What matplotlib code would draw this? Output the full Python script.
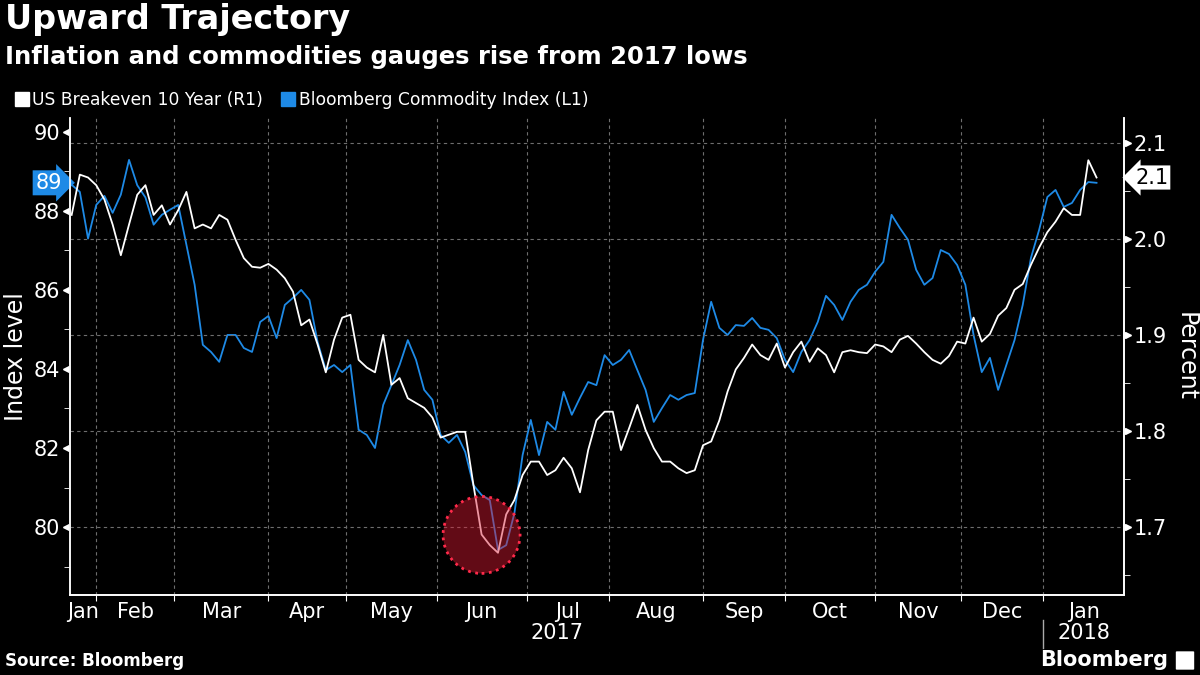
import numpy as np
import pandas as pd
import matplotlib
matplotlib.use("Agg")
import matplotlib.pyplot as plt
from matplotlib.lines import Line2D
from matplotlib.patches import Circle, FancyBboxPatch
from matplotlib.transforms import ScaledTranslation, blended_transform_factory

# trading days shown on the axis (weekends and US market holidays removed)
holidays = ["2017-02-20", "2017-04-14", "2017-05-29", "2017-07-04", "2017-09-04",
            "2017-11-23", "2017-12-25", "2018-01-01", "2018-01-15"]
days = pd.bdate_range("2017-01-23", "2018-01-31")
days = days[~days.isin(pd.to_datetime(holidays))]

# US breakeven 10 year, percent (right axis), read every second trading day from Jan 24 2017
breakeven = [2.025, 2.067, 2.064, 2.056, 2.041, 2.015, 1.983, 2.015, 2.046, 2.056,
             2.025, 2.035, 2.015, 2.030, 2.049, 2.011, 2.015, 2.011, 2.025, 2.020,
             1.999, 1.980, 1.971, 1.970, 1.974, 1.968, 1.959, 1.945, 1.910, 1.916,
             1.890, 1.861, 1.895, 1.918, 1.921, 1.874, 1.866, 1.861, 1.900, 1.848,
             1.855, 1.834, 1.829, 1.824, 1.814, 1.793, 1.796, 1.799, 1.799, 1.744,
             1.692, 1.681, 1.673, 1.713, 1.728, 1.754, 1.768, 1.768, 1.754, 1.759,
             1.772, 1.761, 1.736, 1.780, 1.811, 1.820, 1.820, 1.780, 1.803, 1.827,
             1.801, 1.782, 1.768, 1.768, 1.761, 1.756, 1.759, 1.785, 1.789, 1.811,
             1.841, 1.864, 1.876, 1.890, 1.879, 1.874, 1.891, 1.866, 1.882, 1.893,
             1.872, 1.886, 1.879, 1.861, 1.882, 1.884, 1.882, 1.881, 1.890, 1.888,
             1.882, 1.895, 1.899, 1.891, 1.882, 1.874, 1.870, 1.878, 1.893, 1.891,
             1.918, 1.893, 1.901, 1.920, 1.928, 1.947, 1.953, 1.973, 1.991, 2.007,
             2.018, 2.032, 2.025, 2.025, 2.082, 2.064]

# Bloomberg Commodity Index (left axis), same dates
bcom = [88.66, 88.48, 87.30, 88.15, 88.38, 87.95, 88.41, 89.29, 88.65, 88.34,
        87.65, 87.90, 88.03, 88.15, 87.14, 86.13, 84.61, 84.43, 84.18, 84.86,
        84.86, 84.53, 84.43, 85.19, 85.34, 84.78, 85.62, 85.80, 86.00, 85.75,
        84.68, 83.97, 84.10, 83.92, 84.10, 82.46, 82.33, 82.00, 83.09, 83.59,
        84.10, 84.73, 84.23, 83.47, 83.22, 82.33, 82.13, 82.33, 81.90, 81.06,
        80.81, 80.68, 79.42, 79.54, 80.35, 81.82, 82.71, 81.82, 82.66, 82.46,
        83.42, 82.84, 83.27, 83.67, 83.59, 84.35, 84.10, 84.23, 84.48, 83.97,
        83.47, 82.66, 83.01, 83.34, 83.22, 83.34, 83.39, 84.73, 85.70, 85.04,
        84.86, 85.11, 85.09, 85.29, 85.04, 84.99, 84.78, 84.23, 83.92, 84.43,
        84.73, 85.19, 85.85, 85.62, 85.24, 85.70, 86.00, 86.13, 86.46, 86.71,
        87.90, 87.57, 87.27, 86.51, 86.13, 86.30, 87.01, 86.91, 86.63, 86.13,
        84.86, 83.92, 84.28, 83.47, 84.10, 84.73, 85.62, 86.81, 87.52, 88.35,
        88.53, 88.10, 88.20, 88.53, 88.73, 88.71]

left_ticks = [80, 82, 84, 86, 88, 90]
right_ticks = [1.7, 1.8, 1.9, 2.0, 2.1]
low_date, low_level = "2017-06-16", 79.8

BLUE = "#1e8ae6"
GRID = "#6e6e6e"

pos = days.get_indexer(days[1::2][:len(bcom)])
plt.rcParams["font.family"] = ["DejaVu Sans"]

fig = plt.figure(figsize=(12, 6.75), dpi=100, facecolor="black")
ax = fig.add_axes([70 / 1200, 1 - 595 / 675, 1054 / 1200, 477 / 675])
ax.set_facecolor("black")
ax2 = ax.twinx()

ax.plot(pos, bcom, color=BLUE, lw=1.3, zorder=3)
ax2.plot(pos, breakeven, color="white", lw=1.3, zorder=3)

ax.set_xlim(0.6, 257.7)
ax.set_ylim(78.28, 90.35)
ax2.set_ylim(1.629, 2.126)

# month boundaries and labels
first = pd.Series(np.arange(len(days)), index=days).groupby([days.year, days.month]).first()
starts = first.values[1:]
edges = np.concatenate([[ax.get_xlim()[0]], starts, [ax.get_xlim()[1]]])
mids = (edges[:-1] + edges[1:]) / 2
names = [pd.Timestamp(year=y, month=m, day=1).strftime("%b") for y, m in first.index]

ax.set_xticks(starts)
ax.set_xticklabels([])
ax.set_xticks(mids, minor=True)
ax.set_xticklabels(names, minor=True)
ax.tick_params(axis="x", which="major", length=4, color="white", direction="out")
ax.tick_params(axis="x", which="minor", length=0, pad=5, labelsize=15, labelcolor="white")
ax.xaxis.grid(True, which="major", color=GRID, ls=(0, (3, 3)), lw=0.8)

ax.set_yticks(left_ticks)
ax.set_yticks(np.arange(79, 91, 2), minor=True)
ax.tick_params(axis="y", which="major", length=0, pad=7, labelsize=15, labelcolor="white")
ax.tick_params(axis="y", which="minor", length=4, color="white")
ax2.set_yticks(right_ticks)
ax2.set_yticklabels([f"{t:.1f}" for t in right_ticks])
ax2.set_yticks(np.arange(1.65, 2.1, 0.1), minor=True)
ax2.tick_params(axis="y", which="major", length=0, pad=7, labelsize=15, labelcolor="white")
ax2.tick_params(axis="y", which="minor", length=4, color="white")
ax2.yaxis.grid(True, which="major", color=GRID, ls=(0, (3, 3)), lw=0.8)

# triangle tick marks
tl = blended_transform_factory(ax.transAxes, ax.transData) + ScaledTranslation(-3 / 72, 0, fig.dpi_scale_trans)
ax.plot(np.zeros(len(left_ticks)), left_ticks, ls="none", marker="<", ms=5, color="white",
        transform=tl, clip_on=False)
tr = blended_transform_factory(ax2.transAxes, ax2.transData) + ScaledTranslation(3 / 72, 0, fig.dpi_scale_trans)
ax2.plot(np.ones(len(right_ticks)), right_ticks, ls="none", marker=">", ms=5, color="white",
         transform=tr, clip_on=False)

for a in (ax, ax2):
    a.spines["top"].set_visible(False)
    for s in ("left", "right", "bottom"):
        a.spines[s].set_color("white")
        a.spines[s].set_linewidth(1.2)
ax.spines["left"].set_color("#bbbbbb")

ax.set_ylabel("Index level", color="white", fontsize=17, va="center")
ax.yaxis.set_label_coords(-0.051, 0.5)
ax2.set_ylabel("Percent", color="white", fontsize=17, rotation=270, va="center")
ax2.yaxis.set_label_coords(1.058, 0.5)

# year labels
xy = blended_transform_factory(ax.transData, ax.transAxes)
ax.text((edges[0] + starts[-1]) / 2, -0.08, "2017", transform=xy, ha="center", va="center",
        color="white", fontsize=15)
ax.text((starts[-1] + edges[-1]) / 2, -0.08, "2018", transform=xy, ha="center", va="center",
        color="white", fontsize=15)
ax.plot([starts[-1], starts[-1]], [-0.052, -0.111], color="#aaaaaa", lw=1, transform=xy, clip_on=False)

# last value tags
ax.annotate(f"{bcom[-1]:.0f}", xy=(0, bcom[-1]), xycoords=blended_transform_factory(ax.transAxes, ax.transData),
            xytext=(-6, 0), textcoords="offset points", ha="right", va="center", color="white",
            fontsize=15, bbox=dict(boxstyle="rarrow,pad=0.12", fc=BLUE, ec="none"), annotation_clip=False)
ax2.annotate(f"{breakeven[-1]:.1f}", xy=(1, breakeven[-1]), xycoords=blended_transform_factory(ax2.transAxes, ax2.transData),
             xytext=(8, 0), textcoords="offset points", ha="left", va="center", color="black",
             fontsize=15, bbox=dict(boxstyle="larrow,pad=0.1", fc="white", ec="none"), annotation_clip=False)

# highlight circle around the June low
cx = days.get_loc(pd.Timestamp(low_date))
circ = Circle((0, 0), radius=0.385, transform=fig.dpi_scale_trans + ScaledTranslation(cx, low_level, ax.transData),
              facecolor=(0.86, 0.1, 0.2, 0.45), edgecolor="#ff2a4a", lw=2, ls=":", zorder=10)
ax2.add_patch(circ)

# titles, legend, footer
fig.text(0.004, 1 - 3 / 675, "Upward Trajectory", color="white", fontsize=24, fontweight="bold", va="top")
fig.text(0.004, 1 - 45 / 675, "Inflation and commodities gauges rise from 2017 lows", color="white",
         fontsize=17.5, fontweight="bold", va="top")
handles = [Line2D([], [], ls="none", marker="s", ms=10, color="white"),
           Line2D([], [], ls="none", marker="s", ms=10, color=BLUE)]
leg = fig.legend(handles, ["US Breakeven 10 Year (R1)", "Bloomberg Commodity Index (L1)"], loc="center left",
                 bbox_to_anchor=(-0.002, 1 - 100 / 675), ncol=2, frameon=False, fontsize=12.3,
                 handletextpad=0.1, columnspacing=1.0, handlelength=1.0)
for t in leg.get_texts():
    t.set_color("white")
fig.text(0.004, 1 - 661 / 675, "Source: Bloomberg", color="white", fontsize=12, fontweight="bold", va="center")
fig.text(1168 / 1200, 1 - 660 / 675, "Bloomberg", color="white", fontsize=15, fontweight="bold",
         va="center", ha="right")
fig.patches.append(FancyBboxPatch((1177 / 1200, 1 - 669 / 675), 16 / 1200, 17 / 675,
                                  boxstyle="round,pad=0.001", fc="white", ec="none",
                                  transform=fig.transFigure, figure=fig))

fig.savefig("out.png", dpi=100, facecolor="black")
